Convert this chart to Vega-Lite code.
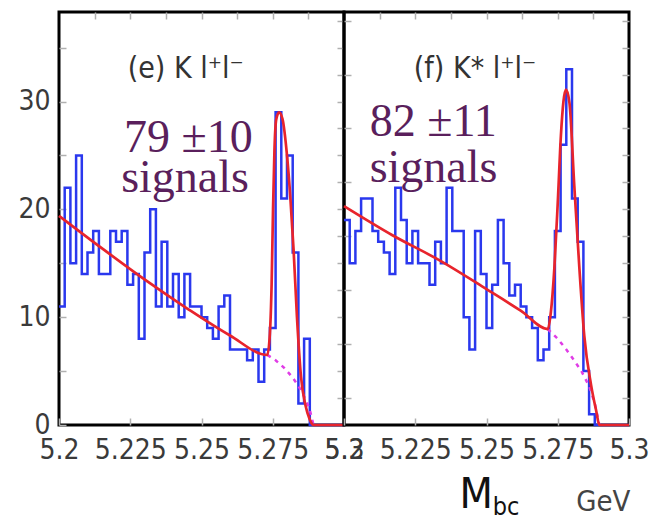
{
  "$schema": "https://vega.github.io/schema/vega-lite/v6.json",
  "background": "white",
  "padding": {"left": 16, "top": 9, "right": 0, "bottom": 0},
  "datasets": {
    "histE": [
      {"m": 5.200, "n": 11}, {"m": 5.202, "n": 22}, {"m": 5.204, "n": 15}, {"m": 5.206, "n": 25}, {"m": 5.208, "n": 14},
      {"m": 5.210, "n": 16}, {"m": 5.212, "n": 18}, {"m": 5.214, "n": 14}, {"m": 5.216, "n": 14}, {"m": 5.218, "n": 18},
      {"m": 5.220, "n": 17}, {"m": 5.222, "n": 18}, {"m": 5.224, "n": 13}, {"m": 5.226, "n": 14}, {"m": 5.228, "n": 8},
      {"m": 5.230, "n": 16}, {"m": 5.232, "n": 20}, {"m": 5.234, "n": 11}, {"m": 5.236, "n": 17}, {"m": 5.238, "n": 11},
      {"m": 5.240, "n": 14}, {"m": 5.242, "n": 10}, {"m": 5.244, "n": 14}, {"m": 5.246, "n": 11}, {"m": 5.248, "n": 11},
      {"m": 5.250, "n": 10}, {"m": 5.252, "n": 9}, {"m": 5.254, "n": 8}, {"m": 5.256, "n": 11}, {"m": 5.258, "n": 12},
      {"m": 5.260, "n": 7}, {"m": 5.262, "n": 7}, {"m": 5.264, "n": 7}, {"m": 5.266, "n": 6}, {"m": 5.268, "n": 7},
      {"m": 5.270, "n": 4}, {"m": 5.272, "n": 7}, {"m": 5.274, "n": 9}, {"m": 5.276, "n": 29}, {"m": 5.278, "n": 21},
      {"m": 5.280, "n": 25}, {"m": 5.282, "n": 16}, {"m": 5.284, "n": 2}, {"m": 5.286, "n": 8}, {"m": 5.288, "n": 0},
      {"m": 5.290, "n": 0}, {"m": 5.292, "n": 0}, {"m": 5.294, "n": 0}, {"m": 5.296, "n": 0}, {"m": 5.298, "n": 0},
      {"m": 5.300, "n": 0}
    ],
    "fitE": [
      {"m": 5.200, "v": 19.4}, {"m": 5.215, "v": 16.4}, {"m": 5.230, "v": 13.5}, {"m": 5.245, "v": 10.8}, {"m": 5.260, "v": 8.3},
      {"m": 5.2731, "v": 6.5}, {"m": 5.2740, "v": 8.5}, {"m": 5.2746, "v": 13}, {"m": 5.2751, "v": 20}, {"m": 5.2756, "v": 25.5},
      {"m": 5.2762, "v": 28.3}, {"m": 5.2772, "v": 29.0}, {"m": 5.2784, "v": 28.4}, {"m": 5.2800, "v": 25}, {"m": 5.2812, "v": 21},
      {"m": 5.2823, "v": 16.3}, {"m": 5.2835, "v": 10}, {"m": 5.2849, "v": 4.5}, {"m": 5.2865, "v": 1.8}, {"m": 5.2880, "v": 0.5},
      {"m": 5.2893, "v": 0}, {"m": 5.300, "v": 0}
    ],
    "bkgE": [
      {"m": 5.2731, "v": 6.5}, {"m": 5.276, "v": 6.0}, {"m": 5.279, "v": 5.3}, {"m": 5.282, "v": 4.4}, {"m": 5.2845, "v": 3.4},
      {"m": 5.2865, "v": 2.4}, {"m": 5.288, "v": 1.4}, {"m": 5.2893, "v": 0}
    ],
    "histF": [
      {"m": 5.200, "n": 19}, {"m": 5.202, "n": 15}, {"m": 5.204, "n": 18}, {"m": 5.206, "n": 21}, {"m": 5.208, "n": 21},
      {"m": 5.210, "n": 18}, {"m": 5.212, "n": 17}, {"m": 5.214, "n": 16}, {"m": 5.216, "n": 14}, {"m": 5.218, "n": 22},
      {"m": 5.220, "n": 19}, {"m": 5.222, "n": 15}, {"m": 5.224, "n": 18}, {"m": 5.226, "n": 15}, {"m": 5.228, "n": 15},
      {"m": 5.230, "n": 13}, {"m": 5.232, "n": 17}, {"m": 5.234, "n": 15}, {"m": 5.236, "n": 22}, {"m": 5.238, "n": 18},
      {"m": 5.240, "n": 18}, {"m": 5.242, "n": 10}, {"m": 5.244, "n": 7}, {"m": 5.246, "n": 18}, {"m": 5.248, "n": 14},
      {"m": 5.250, "n": 9}, {"m": 5.252, "n": 13}, {"m": 5.254, "n": 19}, {"m": 5.256, "n": 15}, {"m": 5.258, "n": 12},
      {"m": 5.260, "n": 13}, {"m": 5.262, "n": 11}, {"m": 5.264, "n": 10}, {"m": 5.266, "n": 9}, {"m": 5.268, "n": 6},
      {"m": 5.270, "n": 7}, {"m": 5.272, "n": 10}, {"m": 5.274, "n": 18}, {"m": 5.276, "n": 26}, {"m": 5.278, "n": 33},
      {"m": 5.280, "n": 21}, {"m": 5.282, "n": 17}, {"m": 5.284, "n": 5}, {"m": 5.286, "n": 1}, {"m": 5.288, "n": 0},
      {"m": 5.290, "n": 0}, {"m": 5.292, "n": 0}, {"m": 5.294, "n": 0}, {"m": 5.296, "n": 0}, {"m": 5.298, "n": 0},
      {"m": 5.300, "n": 0}
    ],
    "fitF": [
      {"m": 5.200, "v": 20.3}, {"m": 5.217, "v": 17.6}, {"m": 5.234, "v": 15.2}, {"m": 5.250, "v": 12.6}, {"m": 5.262, "v": 10.6},
      {"m": 5.2715, "v": 8.9}, {"m": 5.2726, "v": 10.5}, {"m": 5.2738, "v": 14.5}, {"m": 5.2750, "v": 20.6}, {"m": 5.2761, "v": 26.8},
      {"m": 5.2770, "v": 30.0}, {"m": 5.2779, "v": 31.1}, {"m": 5.2791, "v": 29.9}, {"m": 5.2808, "v": 22.2}, {"m": 5.2826, "v": 14.5},
      {"m": 5.2843, "v": 8.3}, {"m": 5.2867, "v": 3.7}, {"m": 5.2885, "v": 1.3}, {"m": 5.2896, "v": 0}, {"m": 5.300, "v": 0}
    ],
    "bkgF": [
      {"m": 5.2715, "v": 8.9}, {"m": 5.275, "v": 8.0}, {"m": 5.278, "v": 7.0}, {"m": 5.281, "v": 5.9}, {"m": 5.2835, "v": 4.9},
      {"m": 5.286, "v": 3.6}, {"m": 5.288, "v": 2.0}, {"m": 5.2896, "v": 0}
    ]
  },
  "config": {
    "view": {"stroke": "black", "strokeWidth": 3},
    "axis": {
      "domain": false, "grid": false,
      "labelFont": "DejaVu Sans Condensed, Liberation Sans", "labelFontSize": 28, "labelColor": "#3a3a3a",
      "tickColor": "#b0b0b0", "tickWidth": 1.5, "tickSize": -7, "labelOverlap": false
    }
  },
  "bounds": "flush",
  "spacing": 0,
  "hconcat": [
    {
      "width": 285, "height": 413,
      "resolve": {"scale": {"x": "independent", "y": "independent"}},
      "layer": [
        {
          "layer": [
            {
              "data": {"name": "histE"},
              "mark": {"type": "line", "interpolate": "step-after", "color": "#2a38ee", "strokeWidth": 2.5},
              "encoding": {
                "x": {"field": "m", "type": "quantitative", "title": null,
                      "scale": {"domain": [5.2, 5.3], "nice": false, "zero": false},
                      "axis": {"orient": "bottom", "values": [5.2, 5.2125, 5.225, 5.2375, 5.25, 5.2625, 5.275, 5.2875, 5.3], "format": ".3~f",
                               "labelExpr": "abs(datum.value*40 - round(datum.value*40)) < 0.01 ? datum.label : ''",
                               "labelPadding": 18, "labelFlush": false, "labelOverlap": false, "labelBound": false}},
                "y": {"field": "n", "type": "quantitative", "title": null,
                      "scale": {"domain": [0, 38.3], "nice": false},
                      "axis": {"orient": "left", "values": [0, 2.5, 5, 7.5, 10, 12.5, 15, 17.5, 20, 22.5, 25, 27.5, 30, 32.5, 35, 37.5],
                               "labelExpr": "datum.value % 10 === 0 ? datum.label : ''",
                               "labelPadding": 16, "labelFlush": false, "labelOverlap": false, "labelBound": false}}
              }
            },
            {
              "data": {"name": "bkgE"},
              "mark": {"type": "line", "color": "#e03ce6", "strokeWidth": 2.5, "strokeDash": [4, 5]},
              "encoding": {"x": {"field": "m", "type": "quantitative"}, "y": {"field": "v", "type": "quantitative"}}
            },
            {
              "data": {"values": [{}]},
              "mark": {"type": "text", "text": "(e)  K l⁺l⁻", "font": "DejaVu Sans Condensed, Liberation Sans", "fontSize": 30, "color": "#333333", "align": "left", "baseline": "alphabetic"},
              "encoding": {"x": {"datum": 5.2241}, "y": {"datum": 32.2}}
            },
            {
              "data": {"values": [{}]},
              "mark": {"type": "text", "text": "79 ±10", "font": "Liberation Serif", "fontSize": 46, "color": "#5a1f5c", "align": "left", "baseline": "alphabetic"},
              "encoding": {"x": {"datum": 5.2228}, "y": {"datum": 25.3}}
            },
            {
              "data": {"values": [{}]},
              "mark": {"type": "text", "text": "signals", "font": "Liberation Serif", "fontSize": 46, "color": "#5a1f5c", "align": "left", "baseline": "alphabetic"},
              "encoding": {"x": {"datum": 5.2218}, "y": {"datum": 21.6}}
            }
          ]
        },
        {
          "data": {"name": "fitE"},
          "mark": {"type": "line", "color": "#e8242c", "strokeWidth": 2.7, "interpolate": "monotone"},
          "encoding": {
            "x": {"field": "m", "type": "quantitative", "title": null,
                  "scale": {"domain": [5.2, 5.3], "nice": false, "zero": false},
                  "axis": {"orient": "top", "values": [5.2125, 5.225, 5.2375, 5.25, 5.2625, 5.275, 5.2875], "labels": false}},
            "y": {"field": "v", "type": "quantitative", "title": null,
                  "scale": {"domain": [0, 38.3], "nice": false},
                  "axis": {"orient": "right", "values": [2.5, 5, 7.5, 10, 12.5, 15, 17.5, 20, 22.5, 25, 27.5, 30, 32.5, 35, 37.5], "labels": false}}
          }
        }
      ]
    },
    {
      "width": 285, "height": 413,
      "resolve": {"scale": {"x": "independent", "y": "independent"}},
      "layer": [
        {
          "layer": [
            {
              "data": {"name": "histF"},
              "mark": {"type": "line", "interpolate": "step-after", "color": "#2a38ee", "strokeWidth": 2.5},
              "encoding": {
                "x": {"field": "m", "type": "quantitative", "title": null,
                      "scale": {"domain": [5.2, 5.3], "nice": false, "zero": false},
                      "axis": {"orient": "bottom", "values": [5.2, 5.2125, 5.225, 5.2375, 5.25, 5.2625, 5.275, 5.2875, 5.3], "format": ".3~f",
                               "labelExpr": "abs(datum.value*40 - round(datum.value*40)) < 0.01 ? datum.label : ''",
                               "labelPadding": 18, "labelFlush": false, "labelOverlap": false, "labelBound": false}},
                "y": {"field": "n", "type": "quantitative", "title": null,
                      "scale": {"domain": [0, 38.3], "nice": false},
                      "axis": {"orient": "left", "values": [2.5, 5, 7.5, 10, 12.5, 15, 17.5, 20, 22.5, 25, 27.5, 30, 32.5, 35, 37.5], "labels": false}}
              }
            },
            {
              "data": {"name": "bkgF"},
              "mark": {"type": "line", "color": "#e03ce6", "strokeWidth": 2.5, "strokeDash": [4, 5]},
              "encoding": {"x": {"field": "m", "type": "quantitative"}, "y": {"field": "v", "type": "quantitative"}}
            },
            {
              "data": {"values": [{}]},
              "mark": {"type": "text", "text": "(f)  K* l⁺l⁻", "font": "DejaVu Sans Condensed, Liberation Sans", "fontSize": 30, "color": "#333333", "align": "left", "baseline": "alphabetic"},
              "encoding": {"x": {"datum": 5.2245}, "y": {"datum": 32.2}}
            },
            {
              "data": {"values": [{}]},
              "mark": {"type": "text", "text": "82 ±11", "font": "Liberation Serif", "fontSize": 46, "color": "#5a1f5c", "align": "left", "baseline": "alphabetic"},
              "encoding": {"x": {"datum": 5.2090}, "y": {"datum": 26.8}}
            },
            {
              "data": {"values": [{}]},
              "mark": {"type": "text", "text": "signals", "font": "Liberation Serif", "fontSize": 46, "color": "#5a1f5c", "align": "left", "baseline": "alphabetic"},
              "encoding": {"x": {"datum": 5.2090}, "y": {"datum": 22.5}}
            },
            {
              "data": {"values": [{}]},
              "mark": {"type": "text", "text": "M", "font": "DejaVu Sans Condensed, Liberation Sans", "fontSize": 43, "color": "#111111", "align": "left", "baseline": "alphabetic"},
              "encoding": {"x": {"datum": 5.2405}, "y": {"datum": -7.7}}
            },
            {
              "data": {"values": [{}]},
              "mark": {"type": "text", "text": "bc", "font": "DejaVu Sans Condensed, Liberation Sans", "fontSize": 25, "color": "#111111", "align": "left", "baseline": "alphabetic"},
              "encoding": {"x": {"datum": 5.2522}, "y": {"datum": -8.35}}
            },
            {
              "data": {"values": [{}]},
              "mark": {"type": "text", "text": "GeV", "font": "DejaVu Sans Condensed, Liberation Sans", "fontSize": 29, "color": "#444444", "align": "left", "baseline": "alphabetic"},
              "encoding": {"x": {"datum": 5.2815}, "y": {"datum": -8.0}}
            }
          ]
        },
        {
          "data": {"name": "fitF"},
          "mark": {"type": "line", "color": "#e8242c", "strokeWidth": 2.7, "interpolate": "monotone"},
          "encoding": {
            "x": {"field": "m", "type": "quantitative", "title": null,
                  "scale": {"domain": [5.2, 5.3], "nice": false, "zero": false},
                  "axis": {"orient": "top", "values": [5.2125, 5.225, 5.2375, 5.25, 5.2625, 5.275, 5.2875], "labels": false}},
            "y": {"field": "v", "type": "quantitative", "title": null,
                  "scale": {"domain": [0, 38.3], "nice": false},
                  "axis": {"orient": "right", "values": [2.5, 5, 7.5, 10, 12.5, 15, 17.5, 20, 22.5, 25, 27.5, 30, 32.5, 35, 37.5], "labels": false}}
          }
        }
      ]
    }
  ]
}
